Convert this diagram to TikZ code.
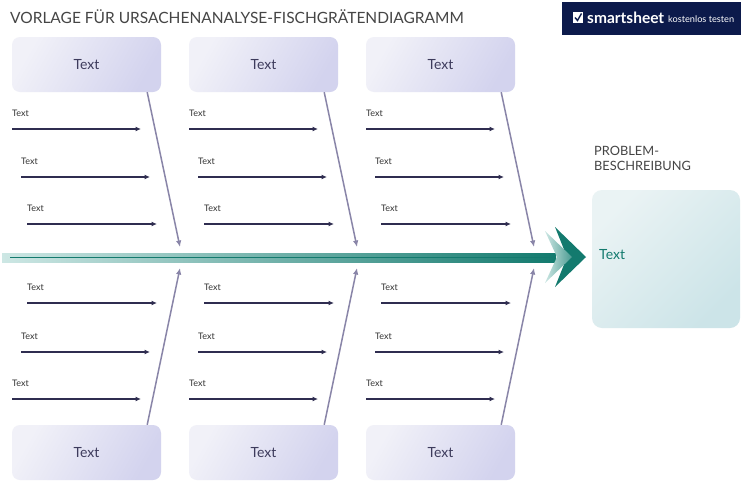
\documentclass[tikz,border=0pt]{standalone}
\usepackage{fontspec}
\setmainfont{Lato}
\usetikzlibrary{arrows.meta}
\definecolor{titlegrey}{HTML}{454545}
\definecolor{boxtext}{HTML}{3D3B5C}
\definecolor{boxlight}{HTML}{F1F1F8}
\definecolor{boxdark}{HTML}{D3D3EE}
\definecolor{bonecol}{HTML}{8985A8}
\definecolor{arrcol}{HTML}{2F2D50}
\definecolor{teal}{HTML}{137A6E}
\definecolor{teallight}{HTML}{CDE7E4}
\definecolor{problight}{HTML}{EAF3F4}
\definecolor{probdark}{HTML}{CCE4E8}
\definecolor{navy}{HTML}{0C1A4B}
\tikzset{
  catbox/.style={rounded corners=8pt, minimum width=149pt, minimum height=55pt,
    shading=axis, left color=boxlight, right color=boxdark, shading angle=60,
    text=boxtext, font=\fontsize{14}{16}\selectfont, inner sep=0pt},
  bone/.style={bonecol, line width=1.5pt, -{Latex[length=6.5pt,width=5.5pt]}},
  smallarr/.style={arrcol, line width=1.2pt, -{Latex[length=5.5pt,width=5pt]}},
  lbl/.style={anchor=base west, font=\fontsize{9}{10}\selectfont, text=black!80, inner sep=0pt},
}
\begin{document}
\begin{tikzpicture}[x=1pt,y=-1pt]
\useasboundingbox (0,0) rectangle (743,485);
\fill[white] (0,0) rectangle (743,485);

% title
\node[anchor=west, inner sep=0pt, text=titlegrey, font=\fontsize{15.5}{17}\selectfont] (title) at (10,17) {VORLAGE FÜR URSACHENANALYSE-FISCHGRÄTENDIAGRAMM};

% logo
\node[fill=navy, minimum width=179pt, minimum height=33pt, inner sep=0pt] (logo) at (651.5,18.5) {};
\fill[white] (573,12) rectangle (583,23);
\draw[navy, line width=1.4pt] (575,17.5) -- (577.5,20.5) -- (581.5,13.5);
\node[anchor=base west, inner sep=0pt, text=white, font=\fontsize{15.5}{17}\selectfont\bfseries] (logoa) at (587,23) {smartsheet};
\node[anchor=base west, inner sep=0pt, text=white, font=\fontsize{9.2}{11}\selectfont] (logob) at (668,22.5) {kostenlos testen};

% spine
\shade[left color=teallight, right color=teal] (2,253) rectangle (556,262);
\draw[teal, line width=1.2pt] (10,257.5) -- (556,257.5);

% chevrons
\fill[teal] (555,227) -- (586,257) -- (555,287) -- (567,257) -- cycle;
\shade[left color=teallight, right color=teal!70!teallight] (545,231) -- (572,257) -- (545,283) -- (557,257) -- cycle;

% problem box
\node[rounded corners=10pt, minimum width=148pt, minimum height=138pt, shading=axis, left color=problight, right color=probdark, shading angle=45] (prob) at (666,259) {};
\node[anchor=west, inner sep=0pt, text=teal, font=\fontsize{14}{16}\selectfont] (probtext) at (599,255) {Text};
\node[anchor=north west, inner sep=0pt, align=left, text=titlegrey, font=\fontsize{12.8}{15}\selectfont] (probtitle) at (594,146) {PROBLEM-\\BESCHREIBUNG};

% columns
\foreach \i/\dx in {1/0,2/177,3/354}{
  \node[catbox] (t\i) at (86.5+\dx,64.5) {Text};
  \node[catbox] (b\i) at (86.5+\dx,452.5) {Text};
  \coordinate (ht\i) at (180+\dx,247);
  \coordinate (hb\i) at (180+\dx,268);
  \draw[bone] ([xshift=-14pt]t\i.south east) -- (ht\i);
  \draw[bone] ([xshift=-14pt]b\i.north east) -- (hb\i);
  % top small arrows
  \foreach \j/\x/\y/\len in {1/12/129/129, 2/21/177/129, 3/27/224/130}{
    \node[lbl] (lt\i\j) at (\x+\dx,\y-13) {Text};
    \coordinate (st\i\j) at (\x+\dx,\y);
    \coordinate (et\i\j) at (\x+\dx+\len,\y);
    \draw[smallarr] (st\i\j) -- (et\i\j);
  }
  % bottom small arrows
  \foreach \j/\x/\y/\len in {1/27/303/130, 2/21/352/129, 3/12/399/129}{
    \node[lbl] (lb\i\j) at (\x+\dx,\y-13) {Text};
    \coordinate (sb\i\j) at (\x+\dx,\y);
    \coordinate (eb\i\j) at (\x+\dx+\len,\y);
    \draw[smallarr] (sb\i\j) -- (eb\i\j);
  }
}
\end{tikzpicture}
\end{document}
